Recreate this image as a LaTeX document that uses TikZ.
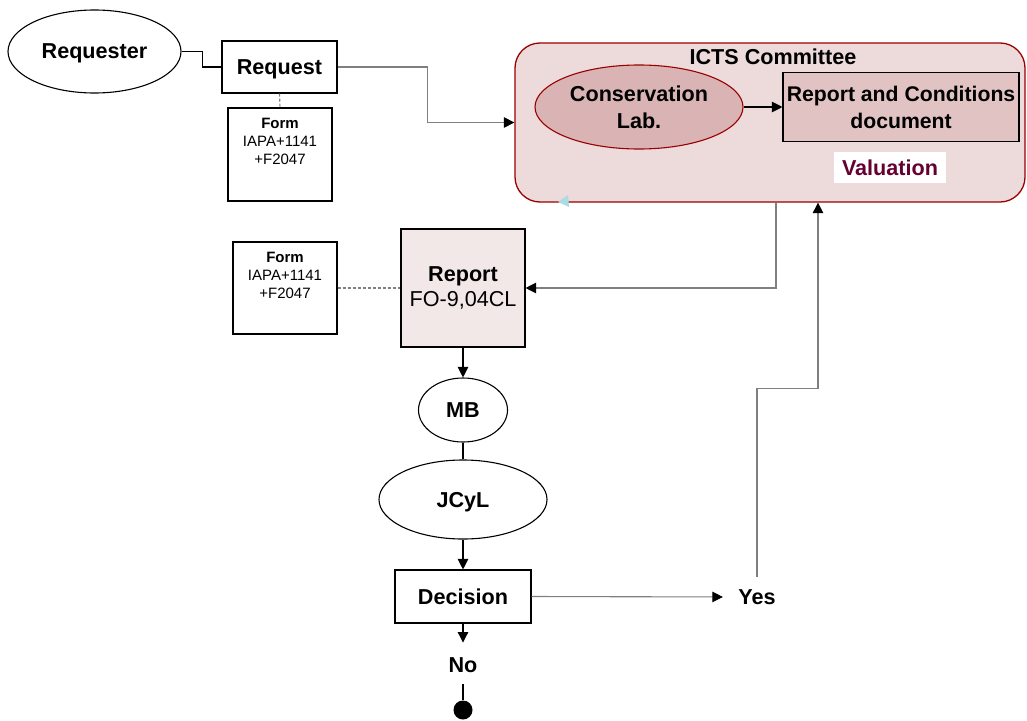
\documentclass[tikz,border=0pt]{standalone}
\usepackage{fontspec}
\setmainfont{Liberation Sans}
\usetikzlibrary{shapes.geometric,arrows.meta,calc}
\definecolor{ictsfill}{HTML}{EDDADA}
\definecolor{ictsborder}{HTML}{990000}
\definecolor{labfill}{HTML}{DAB4B4}
\definecolor{rcdfill}{HTML}{E1C3C3}
\definecolor{repfill}{HTML}{F3E8E8}
\definecolor{valtext}{HTML}{660033}
\definecolor{lgray}{HTML}{7F7F7F}
\definecolor{ghost}{HTML}{A9DCE3}
\tikzset{
  big/.style={font=\fontsize{21.6}{27}\selectfont\bfseries},
  one/.style={text depth=0pt},
  small/.style={font=\fontsize{15}{18}\selectfont},
  tip/.style={-{Triangle[length=10.5pt,width=10.5pt,color=black]}},
  gline/.style={draw=lgray, tip},
  bline/.style={draw=black, tip},
  formbox/.style={draw, minimum width=104pt, minimum height=93pt, inner sep=0},
}
\begin{document}
\begin{tikzpicture}[x=1pt,y=-1pt,line width=1.1pt]
\useasboundingbox (0,0) rectangle (1027,720);

% top left
\node[ellipse, draw, minimum width=173pt, minimum height=83pt, inner sep=0, big, one] (requester) at (94.5,51.5) {Requester};
\node[draw, minimum width=115pt, minimum height=52pt, inner sep=0, big, one] (request) at (279.5,67) {Request};
\node[formbox] (form1) at (280,154.5) {};
\node[anchor=north, inner sep=0, align=center, small] (form1t) at ($(form1.north)+(0,10.5)$) {\textbf{Form}\\IAPA+1141\\+F2047};
\draw (requester.east) -- ++(21,0) |- (request.west);
\draw[lgray, dash pattern=on 3pt off 2pt] (request.south) -- (form1.north);

% ICTS committee
\node[draw=ictsborder, fill=ictsfill, rounded corners=25pt, minimum width=510pt, minimum height=159pt, line width=1.3pt, inner sep=0] (icts) at (770,122.5) {};
\node[big, one, inner sep=0] (ictst) at (773,57) {ICTS Committee};
\node[ellipse, draw=ictsborder, fill=labfill, minimum width=208pt, minimum height=84pt, inner sep=0, big, align=center] (lab) at (639,107) {Conservation\\Lab.};
\node[draw, fill=rcdfill, minimum width=236pt, minimum height=69pt, inner sep=0, align=center, font=\fontsize{21.2}{27}\selectfont\bfseries] (rcd) at (901,107) {Report and Conditions\\document};
\node[fill=white, minimum width=112pt, minimum height=31pt, inner sep=0, big, text=valtext] (val) at (890,167.5) {Valuation};
\fill[ghost] (558,202) -- (568,195) -- (569,207) -- cycle;
\draw[bline] (lab.east) -- (rcd.west);
\draw[gline] (request.east) -- ++(90,0) |- (icts.west);

% middle
\node[draw, fill=repfill, minimum width=124pt, minimum height=118pt, inner sep=0, align=center, font=\fontsize{21.6}{25}\selectfont] (report) at (463,288) {\textbf{Report}\\FO-9,04CL};
\node[formbox, minimum height=92pt] (form2) at (285,288) {};
\node[anchor=north, inner sep=0, align=center, small] (form2t) at ($(form2.north)+(0,10)$) {\textbf{Form}\\IAPA+1141\\+F2047};
\draw[lgray, dash pattern=on 3pt off 2pt] (form2.east) -- (report.west);
\draw[gline] ($(icts.south)+(6,0)$) |- (report.east);

% lower chain
\node[ellipse, draw, minimum width=89pt, minimum height=64pt, inner sep=0, big, one] (mb) at (463,410) {MB};
\node[ellipse, draw, minimum width=168pt, minimum height=79pt, inner sep=0, big, one] (jcyl) at (463,499.5) {JCyL};
\node[draw, minimum width=136pt, minimum height=53pt, inner sep=0, big, one] (dec) at (463,596.5) {Decision};
\node[big, one, inner sep=0] (yes) at (757,597) {Yes};
\node[big, one, inner sep=0] (no) at (463,665) {No};
\node[circle, fill, minimum size=19pt, inner sep=0] (endpt) at (463,710) {};

\draw[bline] (report.south) -- (mb.north);
\draw (mb.south) -- (jcyl.north);
\draw[bline] (jcyl.south) -- (dec.north);
\draw[gline, shorten >=15pt] (dec.east) -- (yes.west);
\draw[bline, shorten >=14.5pt] (dec.south) -- (no.north);
\draw[shorten <=11.5pt] (no.south) -- (endpt.north);
\draw[gline] (yes.north) ++(0,-12.5) -- ++(0,-188) -| ($(icts.south)+(48,0)$);
\end{tikzpicture}
\end{document}
